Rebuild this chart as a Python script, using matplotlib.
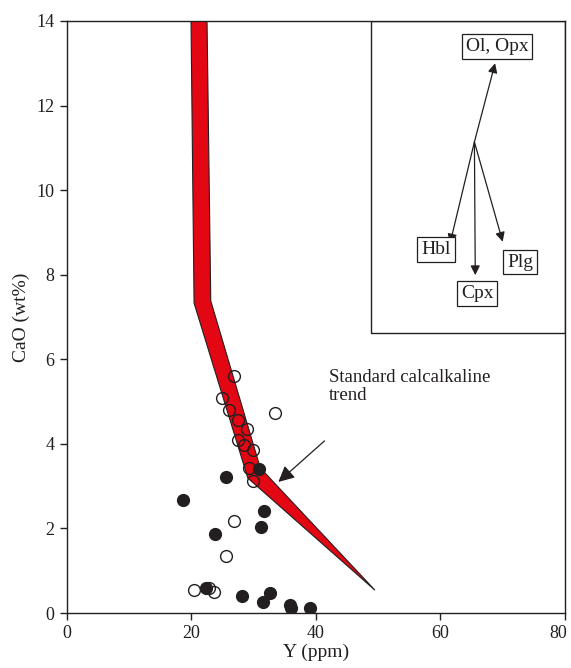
import numpy as np
import matplotlib.pyplot as plt
import matplotlib.transforms as mtransforms
from matplotlib.patches import Polygon, Rectangle

plt.rcParams['font.family'] = ['Liberation Serif', 'DejaVu Serif']

# open circles (Y ppm, CaO wt%)
open_y = [26.9, 25.0, 26.0, 33.5, 27.6, 28.9, 27.6, 28.5, 30.0, 29.3, 30.0,
          26.8, 25.6, 20.5, 23.7, 22.9]
open_cao = [5.61, 5.08, 4.80, 4.72, 4.56, 4.34, 4.09, 3.98, 3.85, 3.44, 3.13,
            2.17, 1.35, 0.54, 0.50, 0.59]

# filled circles
fill_y = [30.9, 25.6, 18.7, 31.7, 31.2, 23.9, 22.4, 28.2, 32.7, 31.5, 35.9, 36.0, 39.1]
fill_cao = [3.40, 3.22, 2.67, 2.41, 2.04, 1.87, 0.58, 0.40, 0.47, 0.27, 0.19, 0.13, 0.11]

# standard calcalkaline trend band outline
band_left = [(19.98, 14.0), (20.47, 7.33), (29.1, 3.19), (49.5, 0.54)]
band_right = [(22.55, 14.0), (23.15, 7.38), (31.1, 3.43)]

# vector diagram in the inset
vec_origin = (65.46, 11.14)
vec_names = ['Ol, Opx', 'Hbl', 'Cpx', 'Plg']
vec_tips = [(68.78, 13.0), (61.55, 8.74), (65.6, 7.99), (70.0, 8.78)]
vec_labels = [(69.1, 13.4), (59.3, 8.6), (65.9, 7.56), (72.8, 8.3)]

fig = plt.figure(figsize=(5.71, 6.68), dpi=100)
ax = fig.add_axes([0.1165, 0.0823, 0.873, 0.8863])

band = Polygon(band_left + band_right[::-1], closed=True, facecolor='#e30613',
               edgecolor='#231f20', linewidth=0.8, zorder=2)
ax.add_patch(band)

ax.plot(open_y, open_cao, 'o', ms=8.5, mfc='none', mec='#231f20', mew=1.0, zorder=3)
ax.plot(fill_y, fill_cao, 'o', ms=8.5, mfc='#231f20', mec='#231f20', mew=1.0, zorder=3)

ax.text(42.1, 5.35, 'Standard calcalkaline\ntrend', fontsize=13.5, ha='left',
        va='center', linespacing=1.05, color='#231f20')
ax.annotate('', xy=(34.0, 3.10), xytext=(41.4, 4.07),
            arrowprops=dict(arrowstyle='-|>', color='#231f20', lw=0.9,
                            mutation_scale=24, shrinkA=0, shrinkB=0))

# inset box
ax.add_patch(Rectangle((48.9, 6.62), 80 - 48.9, 14 - 6.62, fill=False,
                       edgecolor='#231f20', lw=1.0, zorder=2))
for name, tip, lab in zip(vec_names, vec_tips, vec_labels):
    ax.annotate('', xy=tip, xytext=vec_origin,
                arrowprops=dict(arrowstyle='-|>', color='#231f20', lw=0.9,
                                mutation_scale=14, shrinkA=0, shrinkB=0))
    ax.text(lab[0], lab[1], name, fontsize=14, ha='center', va='center',
            color='#231f20',
            bbox=dict(boxstyle='square,pad=0.2', fc='white', ec='#231f20', lw=0.9))

ax.set_xlim(0, 80)
ax.set_ylim(0, 14)
ax.set_xticks([0, 20, 40, 60, 80])
ax.set_yticks([0, 2, 4, 6, 8, 10, 12, 14])
ax.tick_params(direction='out', length=5, width=1, labelsize=13, colors='#231f20')
for s in ax.spines.values():
    s.set_linewidth(1.0)
    s.set_color('#231f20')
ax.set_xlabel('Y (ppm)', fontsize=14, labelpad=1, color='#231f20')
ax.set_ylabel('CaO (wt%)', fontsize=14, labelpad=5, color='#231f20')

# keep the last x tick label inside the figure
lab80 = ax.get_xticklabels()[-1]
lab80.set_transform(lab80.get_transform() +
                    mtransforms.ScaledTranslation(-5 / 72, 0, fig.dpi_scale_trans))

fig.savefig('out.png', dpi=100)
